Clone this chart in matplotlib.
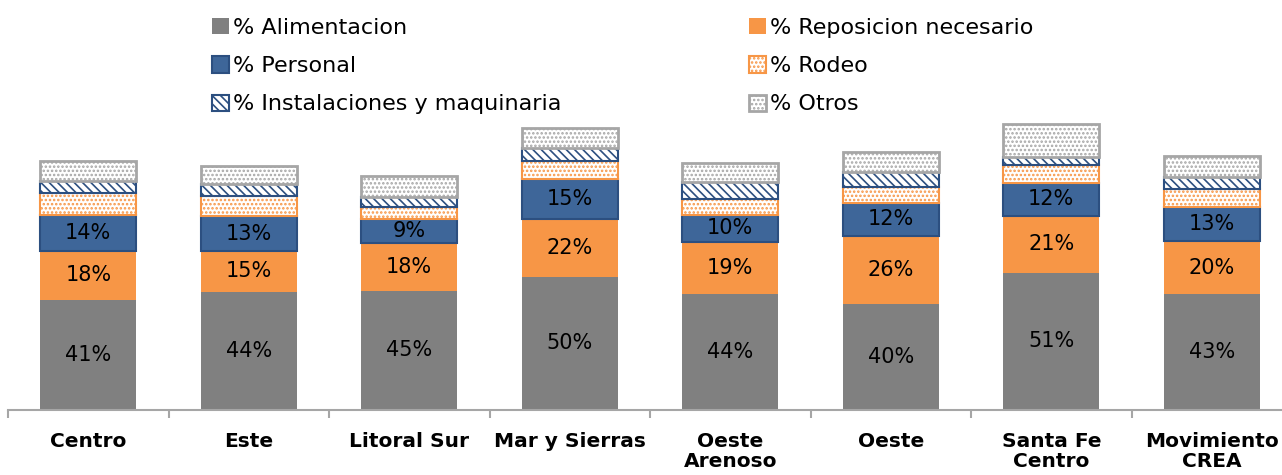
import numpy as np
import matplotlib
matplotlib.use("Agg")
import matplotlib.pyplot as plt

# -----------------------
# DATOS (% del costo total)
# -----------------------
zonas = ["Centro", "Este", "Litoral Sur", "Mar y Sierras", "Oeste\nArenoso",
         "Oeste", "Santa Fe\nCentro", "Movimiento\nCREA"]

alimentacion = [41.2, 44.3, 44.6, 49.9, 43.6, 39.7, 51.4, 43.3]
reposicion = [18.4, 15.4, 18.1, 21.6, 19.4, 25.6, 21.4, 20.1]
personal = [13.6, 12.8, 8.9, 15.2, 10.2, 12.4, 12.2, 12.7]
rodeo = [8.1, 7.8, 4.6, 6.5, 5.9, 6.0, 6.7, 6.6]
instalaciones = [4.3, 4.4, 3.7, 4.8, 6.2, 5.4, 3.1, 4.4]
otros = [7.5, 6.6, 7.9, 7.5, 7.3, 7.7, 12.2, 8.1]

# -----------------------
# ESTILO
# -----------------------
GRIS = "#808080"
NARANJA = "#F79646"
AZUL = "#3E6699"
AZUL_BORDE = "#2C4F80"
GRIS_CLARO = "#A6A6A6"

plt.rcParams["font.family"] = ["DejaVu Sans"]
plt.rcParams["hatch.linewidth"] = 1.2

W, H = 1282, 475
fig = plt.figure(figsize=(W / 100, H / 100), dpi=100)
ax = fig.add_axes([8 / W, 65 / H, 1284 / W, 110 * 2.67 / H])

x = np.arange(len(zonas))
ancho = 0.6

series = [
    ("% Alimentacion", alimentacion, dict(color=GRIS, edgecolor=GRIS, linewidth=0)),
    ("% Reposicion necesario", reposicion, dict(color=NARANJA, edgecolor=NARANJA, linewidth=0)),
    ("% Personal", personal, dict(color=AZUL, edgecolor=AZUL_BORDE, linewidth=1.5)),
    ("% Rodeo", rodeo, dict(facecolor="white", edgecolor=NARANJA, hatch="....", linewidth=1.5)),
    ("% Instalaciones y maquinaria", instalaciones,
     dict(facecolor="white", edgecolor=AZUL_BORDE, hatch="\\\\\\\\", linewidth=1.5)),
    ("% Otros", otros, dict(facecolor="white", edgecolor=GRIS_CLARO, hatch="....", linewidth=2)),
]

base = np.zeros(len(zonas))
handles = {}
for nombre, vals, estilo in series:
    vals = np.array(vals)
    barras = ax.bar(x, vals, ancho, bottom=base, label=nombre, **estilo)
    handles[nombre] = barras
    if nombre in ("% Alimentacion", "% Reposicion necesario", "% Personal"):
        for xi, b, v in zip(x, base, vals):
            ax.text(xi, b + v / 2, f"{v:.0f}%", ha="center", va="center",
                    fontsize=15, color="black")
    base = base + vals

ax.set_xlim(-0.5, len(zonas) - 0.5)
ax.set_ylim(0, 110)

# eje
for lado in ["top", "right", "left"]:
    ax.spines[lado].set_visible(False)
ax.spines["bottom"].set_color(GRIS_CLARO)
ax.spines["bottom"].set_linewidth(1.5)
ax.set_yticks([])
ax.set_xticks(x)
ax.set_xticklabels(zonas, fontsize=14.5, fontweight="bold", linespacing=1.05)
ax.tick_params(axis="x", which="major", length=0, pad=16)
ax.set_xticks(np.arange(len(zonas) + 1) - 0.5, minor=True)
ax.tick_params(axis="x", which="minor", length=6, width=1.5, color=GRIS_CLARO, direction="out")

# leyenda en dos bloques
col1 = ["% Alimentacion", "% Personal", "% Instalaciones y maquinaria"]
col2 = ["% Reposicion necesario", "% Rodeo", "% Otros"]
opts = dict(frameon=False, fontsize=16, handlelength=0.75, handleheight=0.75,
            handletextpad=0.2, labelspacing=0.82, borderpad=0, borderaxespad=0,
            loc="upper left")
leg1 = fig.legend([handles[n] for n in col1], col1,
                  bbox_to_anchor=(212 / W, 1 - 18 / H), **opts)
leg2 = fig.legend([handles[n] for n in col2], col2,
                  bbox_to_anchor=(749 / W, 1 - 18 / H), **opts)

fig.savefig("out.png", dpi=100)
